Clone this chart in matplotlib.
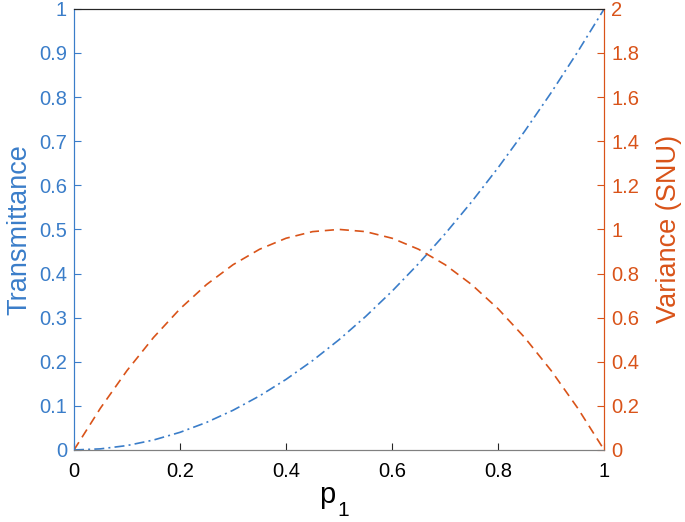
import matplotlib
matplotlib.use("Agg")
import matplotlib.pyplot as plt
from matplotlib.ticker import FuncFormatter

p1 = [0.0, 0.05, 0.1, 0.15, 0.2, 0.25, 0.3, 0.35, 0.4, 0.45, 0.5,
      0.55, 0.6, 0.65, 0.7, 0.75, 0.8, 0.85, 0.9, 0.95, 1.0]
transmittance = [0.0, 0.0025, 0.01, 0.0225, 0.04, 0.0625, 0.09, 0.1225, 0.16, 0.2025, 0.25,
                 0.3025, 0.36, 0.4225, 0.49, 0.5625, 0.64, 0.7225, 0.81, 0.9025, 1.0]
variance = [0.0, 0.19, 0.36, 0.51, 0.64, 0.75, 0.84, 0.91, 0.96, 0.99, 1.0,
            0.99, 0.96, 0.91, 0.84, 0.75, 0.64, 0.51, 0.36, 0.19, 0.0]

xticks = [0, 0.2, 0.4, 0.6, 0.8, 1]
lticks = [0, 0.1, 0.2, 0.3, 0.4, 0.5, 0.6, 0.7, 0.8, 0.9, 1]
rticks = [0, 0.2, 0.4, 0.6, 0.8, 1, 1.2, 1.4, 1.6, 1.8, 2]

BLUE = '#3A7DC9'
ORANGE = '#D95319'

plt.rcParams['font.family'] = ['Liberation Sans', 'DejaVu Sans']

fig = plt.figure(figsize=(6.85, 5.22), dpi=100)
ax = fig.add_axes([0.108, 0.138, 0.774, 0.845])
ax2 = ax.twinx()

ax.plot(p1, transmittance, color=BLUE, lw=1.2, linestyle=(0, (6, 2.5, 1.2, 2.5)))
ax2.plot(p1, variance, color=ORANGE, lw=1.2, linestyle=(0, (5.5, 3.5)))

fmt = FuncFormatter(lambda v, pos: ('%g' % v))
ax.set_xlim(0, 1)
ax.set_ylim(0, 1)
ax2.set_ylim(0, 2)
ax.set_xticks(xticks)
ax.set_yticks(lticks)
ax2.set_yticks(rticks)
ax.xaxis.set_major_formatter(fmt)
ax.yaxis.set_major_formatter(fmt)
ax2.yaxis.set_major_formatter(fmt)

for a in (ax, ax2):
    a.tick_params(direction='in', length=5, width=0.8, labelsize=14.5)
ax.tick_params(axis='x', colors='#262626', pad=9)
ax.tick_params(axis='y', colors=BLUE, pad=5)
ax2.tick_params(axis='y', colors=ORANGE, pad=5)
ax.tick_params(axis='x', labelcolor='black')

for a in (ax, ax2):
    a.spines['top'].set_color('#262626')
    a.spines['bottom'].set_color('#808080')
    a.spines['left'].set_color(BLUE)
    a.spines['right'].set_color(ORANGE)

# x label "p" with a lowered subscript "1"
fig.text(0.466, 0.036, 'p', fontsize=21, color='black', ha='left', va='baseline')
fig.text(0.493, 0.012, '1', fontsize=15, color='black', ha='left', va='baseline')
ax.set_ylabel('Transmittance', fontsize=19.5, color=BLUE, labelpad=5)
ax2.set_ylabel('Variance (SNU)', fontsize=19.5, color=ORANGE, labelpad=12)

fig.savefig('out.png', dpi=100)
